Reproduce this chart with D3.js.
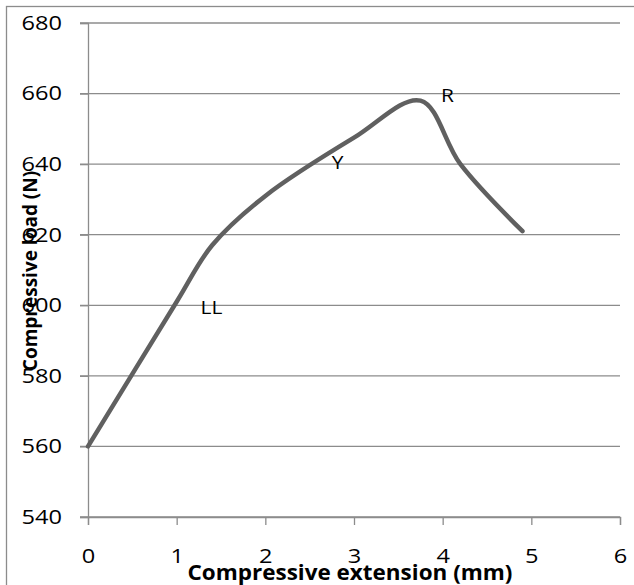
<!DOCTYPE html>
<html>
<head>
<meta charset="utf-8">
<script src="https://cdn.jsdelivr.net/npm/d3@7"></script>
<style>
  body { margin: 0; background: #fff; }
  text { font-family: "Open Sans", "DejaVu Sans", sans-serif; }
</style>
</head>
<body>
<svg width="634" height="585"></svg>
<script>
  // data
  const extension = [0, 1, 1.4, 2, 3, 3.75, 4.2, 4.9];
  const load = [560, 601, 617, 631, 647.5, 658, 640, 621];
  const xTicks = [0, 1, 2, 3, 4, 5, 6];
  const yTicks = [540, 560, 580, 600, 620, 640, 660, 680];
  const marks = ["LL", "Y", "R"];
  const markX = [1.27, 2.75, 3.98];
  const markY = [597.5, 638.5, 657.5];

  const svg = d3.select("svg");
  const x = d3.scaleLinear().domain([0, 6]).range([88, 620]);
  const y = d3.scaleLinear().domain([540, 680]).range([517, 23]);
  const grey = "#8c8c8c";

  // the picture is a bit wider than tall, widen glyphs to match
  function widen(sel, k) {
    sel.each(function () {
      const w = this.getComputedTextLength();
      d3.select(this).attr("textLength", w * k).attr("lengthAdjust", "spacingAndGlyphs");
    });
  }

  // outer frame
  svg.append("rect")
    .attr("x", 6.5).attr("y", 6.5)
    .attr("width", 640).attr("height", 600)
    .attr("fill", "none").attr("stroke", grey).attr("stroke-width", 1.3);

  // gridlines
  svg.append("g")
    .selectAll("line")
    .data(yTicks)
    .join("line")
    .attr("x1", x(0) - 8).attr("x2", x(6))
    .attr("y1", d => y(d)).attr("y2", d => y(d))
    .attr("stroke", grey).attr("stroke-width", 1.3);

  // y axis
  const yAxis = svg.append("g")
    .attr("transform", `translate(${x(0)},0)`)
    .call(d3.axisLeft(y).tickValues(yTicks).tickSize(8).tickPadding(18));
  yAxis.select(".domain").attr("stroke", grey).attr("stroke-width", 1.3);
  yAxis.selectAll(".tick line").attr("stroke", grey).attr("stroke-width", 1.3);
  yAxis.selectAll("text").attr("font-size", 20).attr("fill", "#000").call(widen, 1.18);

  // x axis
  const xAxis = svg.append("g")
    .attr("transform", `translate(0,${y(540)})`)
    .call(d3.axisBottom(x).tickValues(xTicks).tickFormat(d3.format("d"))
      .tickSize(8).tickSizeOuter(8).tickPadding(24));
  xAxis.select(".domain").attr("stroke", grey).attr("stroke-width", 1.3);
  xAxis.selectAll(".tick line").attr("stroke", grey).attr("stroke-width", 1.3);
  xAxis.selectAll("text").attr("font-size", 20).attr("fill", "#000").call(widen, 1.18);

  // curve
  const line = d3.line()
    .x((d, i) => x(extension[i]))
    .y(d => y(d))
    .curve(d3.curveCatmullRom.alpha(0.5));
  svg.append("path")
    .attr("d", line(load))
    .attr("fill", "none")
    .attr("stroke", "#606060")
    .attr("stroke-width", 4.5)
    .attr("stroke-linecap", "round");

  // point labels
  svg.append("g")
    .selectAll("text")
    .data(marks)
    .join("text")
    .attr("x", (d, i) => x(markX[i]))
    .attr("y", (d, i) => y(markY[i]))
    .attr("font-size", 19)
    .text(d => d)
    .call(widen, 1.1);

  // axis titles
  svg.append("text")
    .attr("x", 350).attr("y", 580)
    .attr("text-anchor", "middle")
    .attr("font-size", 21).attr("font-weight", "bold")
    .attr("textLength", 325).attr("lengthAdjust", "spacingAndGlyphs")
    .text("Compressive extension (mm)");
  svg.append("text")
    .attr("transform", "translate(37,271) rotate(-90)")
    .attr("text-anchor", "middle")
    .attr("font-size", 19).attr("font-weight", "bold")
    .text("Compressive load (N)");
</script>
</body>
</html>
